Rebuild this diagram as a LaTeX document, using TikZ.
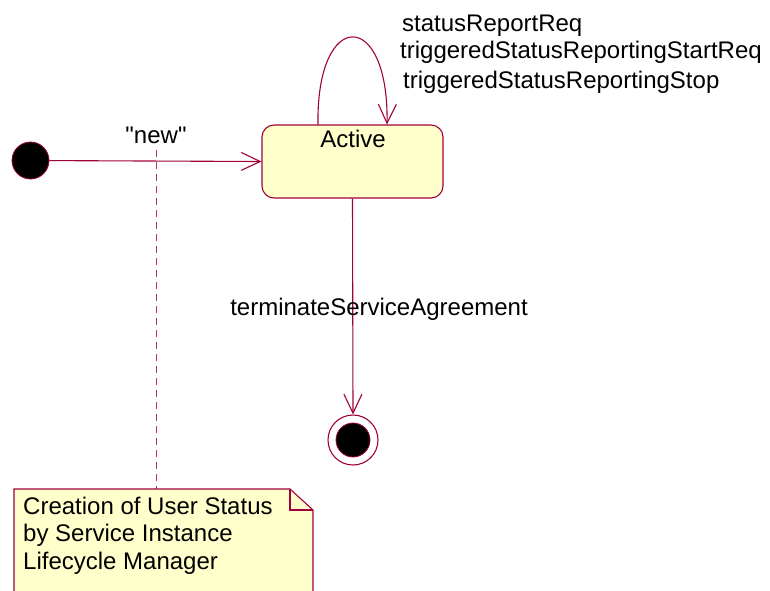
\documentclass[tikz,border=0pt]{standalone}
\usepackage{fontspec}
\setmainfont{Liberation Sans}[Ligatures=TeXOff]
\usetikzlibrary{arrows.meta}
\definecolor{umlline}{RGB}{160,0,60}
\definecolor{umlfill}{RGB}{255,255,204}
\begin{document}
\begin{tikzpicture}[x=1pt,y=-1pt,
  txt/.style={font=\fontsize{24}{27.5}\selectfont, inner sep=0pt},
  conn/.style={draw=umlline, line width=1.1pt, -{Straight Barb[length=19pt,width=18pt,line width=1.1pt]}},
  statebox/.style={draw=umlline, fill=umlfill, line width=1.1pt, rounded corners=12pt, minimum width=181pt, minimum height=73pt, inner sep=0pt},
  dot/.style={circle, fill=black, draw=umlline, line width=0.8pt, inner sep=0pt}]
\useasboundingbox (0,0) rectangle (770,590);
% initial state
\node[dot, minimum size=37pt] (init) at (30.5,160.5) {};
% active state
\node[statebox] (active) at (352.5,161.5) {};
\node[txt, anchor=base] (activelbl) at (353,147) {Active};
% final state
\node[circle, draw=umlline, line width=1.1pt, fill=white, minimum size=50pt, inner sep=0pt] (final) at (353,440) {};
\node[dot, minimum size=34pt] (finalin) at (353,440) {};
% transitions
\draw[conn] (init) -- (active.west);
\node[txt, anchor=base] (newlbl) at (156,143) {"new"};
\coordinate (loopa) at (318,124.5);
\coordinate (loopb) at (387,124.5);
\draw[conn] (loopa) .. controls (316,8) and (389,8) .. (loopb);
\node[txt, anchor=base west] (l1) at (402,31) {statusReportReq};
\node[txt, anchor=base west] (l2) at (400,58) {triggeredStatusReportingStartReq};
\node[txt, anchor=base west] (l3) at (403,88) {triggeredStatusReportingStop};
\draw[conn] (active.south) -- (final.north);
\node[txt, anchor=base] (termlbl) at (379,315) {terminateServiceAgreement};
% note
\coordinate (notetop) at (156,489);
\coordinate (dashstart) at (156,150);
\draw[umlline!80, line width=0.9pt, dash pattern=on 7pt off 5pt] (dashstart) -- (notetop);
\draw[umlline, fill=umlfill, line width=1.1pt] (14,600) -- (14,489) -- (290,489) -- (313,510) -- (313,600);
\draw[umlline, line width=1.1pt] (290,489) -- (290,510) -- (313,510);
\node[txt, anchor=base west] (note) at (23,514) {Creation of User Status};
\node[txt, anchor=base west] (note2) at (23,541.5) {by Service Instance};
\node[txt, anchor=base west] (note3) at (23,569) {Lifecycle Manager};
\end{tikzpicture}
\end{document}
